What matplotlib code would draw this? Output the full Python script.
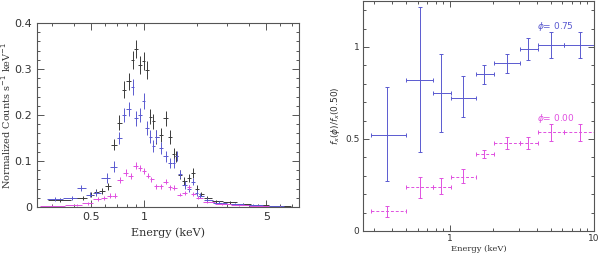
import numpy as np
import matplotlib
matplotlib.use('Agg')
import matplotlib.pyplot as plt
from matplotlib.ticker import FixedLocator, NullFormatter, FixedFormatter

#left panel: spectra (energy in keV, normalized counts)
e_black=[0.33,0.45,0.50,0.535,0.58,0.625,0.676,0.722,0.772,0.818,
         0.862,0.90,0.949,1.0,1.04,1.09,1.13,1.18,1.25,1.33,
         1.41,1.48,1.53,1.60,1.70,1.81,1.91,2.0,2.12,2.3,
         2.6,3.1,3.7,4.5,6.0]
c_black=[0.015,0.02,0.027,0.033,0.035,0.045,0.135,0.183,0.255,0.273,
         0.319,0.343,0.309,0.317,0.298,0.196,0.186,0.153,0.157,0.193,
         0.153,0.116,0.11,0.07,0.056,0.063,0.074,0.04,0.028,0.02,
         0.012,0.01,0.006,0.004,0.002]
err_black=[0.004,0.005,0.006,0.006,0.007,0.008,0.012,0.016,0.018,0.018,
           0.02,0.02,0.02,0.02,0.02,0.016,0.016,0.015,0.015,0.016,
           0.015,0.012,0.012,0.01,0.009,0.009,0.01,0.007,0.005,0.004,
           0.003,0.003,0.002,0.002,0.001]

e_blue=[0.31,0.386,0.44,0.491,0.532,0.612,0.674,0.722,0.772,0.818,
        0.862,0.90,0.949,1.0,1.04,1.09,1.13,1.18,1.25,1.33,
        1.41,1.48,1.54,1.60,1.72,1.81,1.91,2.0,2.09,2.3,
        2.7,3.3,4.2,5.5]
c_blue=[0.017,0.02,0.041,0.027,0.03,0.063,0.088,0.15,0.20,0.213,
        0.261,0.193,0.20,0.23,0.172,0.153,0.132,0.153,0.128,0.11,
        0.096,0.096,0.11,0.072,0.048,0.04,0.055,0.03,0.025,0.015,
        0.009,0.006,0.004,0.002]
err_blue=[0.004,0.005,0.007,0.006,0.007,0.01,0.012,0.014,0.016,0.016,
          0.018,0.016,0.016,0.017,0.015,0.014,0.013,0.014,0.013,0.012,
          0.011,0.011,0.011,0.009,0.008,0.007,0.008,0.006,0.005,0.004,
          0.003,0.002,0.002,0.001]

e_mag=[0.30,0.413,0.48,0.548,0.59,0.64,0.683,0.73,0.79,0.84,
       0.90,0.95,1.0,1.06,1.10,1.18,1.25,1.33,1.41,1.48,
       1.60,1.72,1.81,1.91,2.05,2.3,2.8,3.5,4.5,6.0]
c_mag=[0.003,0.005,0.008,0.017,0.02,0.025,0.025,0.059,0.075,0.067,
       0.09,0.085,0.078,0.068,0.06,0.045,0.045,0.055,0.043,0.042,
       0.027,0.03,0.043,0.028,0.02,0.01,0.006,0.004,0.002,0.001]
err_mag=[0.002,0.002,0.003,0.004,0.004,0.005,0.005,0.006,0.007,0.006,
         0.007,0.007,0.007,0.006,0.006,0.005,0.005,0.006,0.005,0.005,
         0.004,0.004,0.005,0.004,0.003,0.002,0.002,0.001,0.001,0.001]

#right panel: flux ratio per energy bin
bin_edges=[0.285,0.5,0.764,1.02,1.51,2.02,3.09,4.07,6.2,10.0]
e_ratio=[0.366,0.617,0.865,1.24,1.74,2.5,3.51,5.02,8.03]
r075=[0.524,0.82,0.75,0.725,0.853,0.915,0.991,1.009,1.009]
r075_lo=[0.273,0.43,0.54,0.62,0.80,0.857,0.93,0.94,0.94]
r075_hi=[0.781,1.216,0.96,0.84,0.90,0.96,1.047,1.08,1.08]
r000=[0.11,0.237,0.237,0.295,0.418,0.476,0.476,0.536,0.536]
r000_lo=[0.078,0.178,0.2,0.26,0.396,0.446,0.446,0.487,0.487]
r000_hi=[0.135,0.295,0.29,0.336,0.44,0.513,0.513,0.58,0.58]

c_k='#3a3a3a'
c_b='#5a5ad0'
c_m='#e050e0'
frame='#555555'
tickfont='DejaVu Sans'
labfont='DejaVu Serif'

def half_widths(e):
    #bin edges half way (in log) between neighbouring bin centres
    e=np.asarray(e)
    mid=np.sqrt(e[1:]*e[:-1])
    lo=np.concatenate([[e[0]**2/mid[0]],mid])
    hi=np.concatenate([mid,[e[-1]**2/mid[-1]]])
    return np.vstack([e-lo,hi-e])

def style(ax,maj,mino,fs,pad):
    for s in ax.spines.values():
        s.set_color(frame)
        s.set_linewidth(0.8)
    ax.tick_params(which='both',direction='in',top=True,right=True,colors=frame,
                   labelcolor='#333333',labelsize=fs,width=0.7,pad=pad)
    ax.tick_params(which='major',length=maj)
    ax.tick_params(which='minor',length=mino)
    for t in ax.get_xticklabels()+ax.get_yticklabels():
        t.set_family(tickfont)

fig=plt.figure(figsize=(6,2.56),dpi=100)

#left: spectra
ax1=fig.add_axes([37/600,49/256,262/600,184/256])
for e,c,err,col in [(e_black,c_black,err_black,c_k),(e_blue,c_blue,err_blue,c_b),(e_mag,c_mag,err_mag,c_m)]:
    ax1.errorbar(e,c,xerr=half_widths(e),yerr=err,fmt='none',ecolor=col,elinewidth=0.7,capsize=0)
ax1.set_xscale('log')
ax1.set_xlim(0.245,7.7)
ax1.set_ylim(0,0.4)
ax1.xaxis.set_major_locator(FixedLocator([0.5,1,5]))
ax1.xaxis.set_major_formatter(FixedFormatter(['0.5','1','5']))
ax1.xaxis.set_minor_locator(FixedLocator([0.3,0.4,0.6,0.7,0.8,0.9,2,3,4,6,7]))
ax1.xaxis.set_minor_formatter(NullFormatter())
ax1.set_yticks([0,0.1,0.2,0.3,0.4])
ax1.set_yticklabels(['0','0.1','0.2','0.3','0.4'])
ax1.yaxis.set_minor_locator(FixedLocator(np.arange(0,0.41,0.02)))
style(ax1,5,2.5,8,3.5)
ax1.set_xlabel('Energy (keV)',family=labfont,fontsize=8,color='#333333',labelpad=4)
ax1.set_ylabel('Normalized Counts s$^{-1}$ keV$^{-1}$',family=labfont,fontsize=7,color='#333333')
ax1.yaxis.set_label_coords(-0.09,0.5)

#right: ratio
ax2=fig.add_axes([363/600,25/256,231/600,230/256])
edges=np.asarray(bin_edges)
er=np.asarray(e_ratio)
xe=np.vstack([er-edges[:-1],edges[1:]-er])
r1=np.asarray(r075)
ax2.errorbar(er,r1,xerr=xe,yerr=[r1-np.asarray(r075_lo),np.asarray(r075_hi)-r1],
             fmt='none',ecolor=c_b,elinewidth=0.7,capsize=1.5,capthick=0.7)
r0=np.asarray(r000)
ax2.errorbar(er,r0,yerr=[r0-np.asarray(r000_lo),np.asarray(r000_hi)-r0],
             fmt='none',ecolor=c_m,elinewidth=0.7,capsize=1.5,capthick=0.7)
eb0x=ax2.errorbar(er,r0,xerr=xe,fmt='none',ecolor=c_m,elinewidth=0.7,capsize=1.5,capthick=0.7)
eb0x[2][0].set_linestyle((0,(3,2)))
ax2.set_xscale('log')
ax2.set_xlim(0.25,10)
ax2.set_ylim(0,1.25)
ax2.xaxis.set_major_locator(FixedLocator([1,10]))
ax2.xaxis.set_major_formatter(FixedFormatter(['1','10']))
ax2.xaxis.set_minor_locator(FixedLocator([0.3,0.4,0.5,0.6,0.7,0.8,0.9,2,3,4,5,6,7,8,9]))
ax2.xaxis.set_minor_formatter(NullFormatter())
ax2.set_yticks([0,0.5,1])
ax2.set_yticklabels(['0','0.5','1'])
ax2.yaxis.set_minor_locator(FixedLocator(np.arange(0,1.25,0.1)))
style(ax2,4,2,6.5,2.5)
ax2.set_xlabel('Energy (keV)',family=labfont,fontsize=6,color='#333333',labelpad=1)
ax2.set_ylabel(r'$f_x(\phi)/f_x(0.50)$',fontsize=6.5,color='#333333')
ax2.yaxis.set_label_coords(-0.09,0.5)
ax2.text(4.0,1.109,r'$\phi$= 0.75',color=c_b,fontsize=6.5,family=tickfont,va='center')
ax2.text(4.0,0.612,r'$\phi$= 0.00',color=c_m,fontsize=6.5,family=tickfont,va='center')

fig.savefig('out.png',dpi=100)
